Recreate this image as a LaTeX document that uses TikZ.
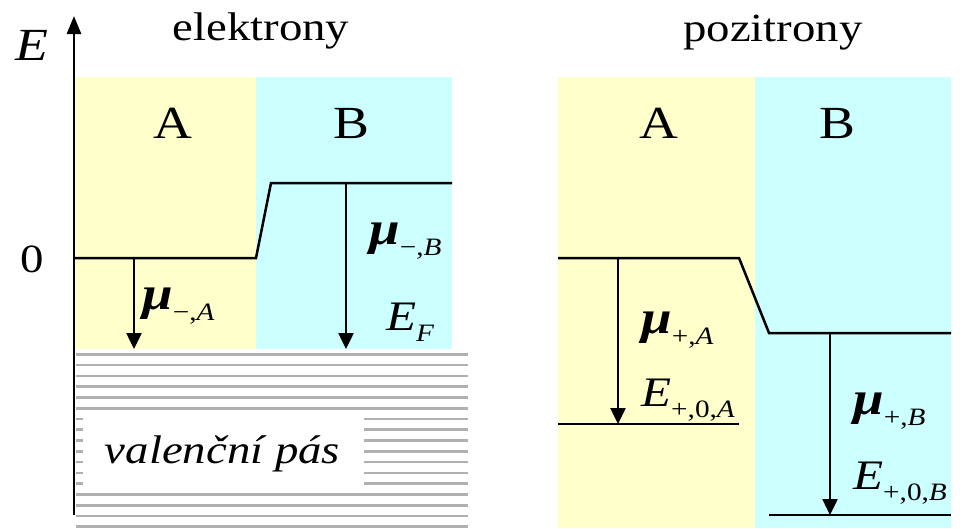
\documentclass[tikz,border=0pt]{standalone}
\usepackage{fontspec}
\usepackage{graphicx}
\setmainfont{Liberation Serif}
\usetikzlibrary{arrows.meta}
\definecolor{yel}{HTML}{FFFFCC}
\definecolor{cya}{HTML}{CCFFFF}
\definecolor{stripe}{HTML}{B0B0B0}
\newcommand{\hs}[1]{\scalebox{1.17}[1]{#1}}
\newcommand{\symb}[2]{\hs{\textit{#1}\raisebox{-11pt}{\fontsize{25}{25}\selectfont #2}}}
\newcommand{\mub}{{\fontsize{47}{50}\selectfont\textbf{\textit{μ}}}}
\tikzset{
  lvl/.style={line width=2.5pt, line join=miter},
  darrow/.style={line width=2.5pt, -{Triangle[width=15pt,length=16pt]}},
  title/.style={font=\fontsize{40}{44}\selectfont, inner sep=0pt, anchor=base},
  region/.style={font=\fontsize{46}{50}\selectfont, inner sep=0pt, anchor=base},
  lbl/.style={font=\fontsize{42}{46}\selectfont, inner sep=0pt, anchor=base west},
  stripeline/.style={draw=stripe, line width=2.6pt}
}
\begin{document}
\begin{tikzpicture}[x=1pt,y=-1pt]
\useasboundingbox (0,0) rectangle (962,528);
% ---------- electrons ----------
\fill[yel] (74,77) rectangle (256,349);
\fill[cya] (256,77) rectangle (452,349);
\foreach \i in {0,...,16} {
  \draw[stripeline] (76,354.3+10.78*\i) -- (468,354.3+10.78*\i);
}
\fill[white] (83,411) rectangle (364,487);
\node[title] (val) at (222.5,463) {\hs{\textit{valenční pás}}};
\coordinate (ax0) at (74,515);
\coordinate (ax1) at (74,16);
\draw[line width=2.8pt, -{Triangle[width=14pt,length=18pt]}] (ax0) -- (ax1);
\node[region] (Elab) at (31.5,60) {\hs{\textit{E}}};
\node[title] (zero) at (32,272) {\hs{0}};
\node[title] (tel) at (261,40) {\hs{elektrony}};
\node[region] (eA) at (173,138) {\hs{A}};
\node[region] (eB) at (351,138) {\hs{B}};
\coordinate (l0) at (74,258);
\coordinate (l1) at (256,258);
\coordinate (l2) at (271,183);
\coordinate (l3) at (452,183);
\draw[lvl] (l0) -- (l1) -- (l2) -- (l3);
\coordinate (aA0) at (134,258);
\coordinate (aA1) at (134,349);
\coordinate (aB0) at (346,183);
\coordinate (aB1) at (346,349);
\draw[darrow] (aA0) -- (aA1);
\draw[darrow] (aB0) -- (aB1);
\node[lbl] (muA) at (142,309) {\symb{\mub}{−,\textit{A}}};
\node[lbl] (muB) at (369,244) {\symb{\mub}{−,\textit{B}}};
\node[lbl] (EF) at (386,330) {\symb{E}{\textit{F}}};
% ---------- positrons ----------
\fill[yel] (558,77) rectangle (755,528);
\fill[cya] (755,77) rectangle (951,528);
\node[title] (tpo) at (773,41) {\hs{pozitrony}};
\node[region] (pA) at (659,138) {\hs{A}};
\node[region] (pB) at (837.5,138) {\hs{B}};
\coordinate (p0) at (558,258);
\coordinate (p1) at (739,258);
\coordinate (p2) at (769,333);
\coordinate (p3) at (951,333);
\draw[lvl] (p0) -- (p1) -- (p2) -- (p3);
\coordinate (qA0) at (558,424);
\coordinate (qA1) at (739,424);
\draw[lvl] (qA0) -- (qA1);
\coordinate (qB0) at (769,515);
\coordinate (qB1) at (951,515);
\draw[lvl] (qB0) -- (qB1);
\coordinate (bA0) at (618,258);
\coordinate (bA1) at (618,424);
\coordinate (bB0) at (830,333);
\coordinate (bB1) at (830,515);
\draw[darrow] (bA0) -- (bA1);
\draw[darrow] (bB0) -- (bB1);
\node[lbl] (mupA) at (641,333) {\symb{\mub}{+,\textit{A}}};
\node[lbl] (EpA) at (641,406) {\symb{E}{+,0,\textit{A}}};
\node[lbl] (mupB) at (853,414) {\symb{\mub}{+,\textit{B}}};
\node[lbl] (EpB) at (853,489) {\symb{E}{+,0,\textit{B}}};
\end{tikzpicture}
\end{document}
